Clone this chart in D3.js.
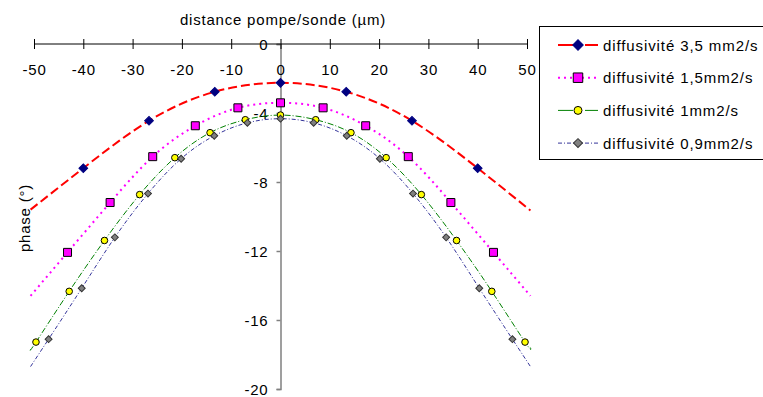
<!DOCTYPE html>
<html>
<head>
<meta charset="utf-8">
<script src="https://cdn.jsdelivr.net/npm/d3@7"></script>
<style>
  body { margin: 0; background: #fff; }
  svg text { font-family: "Liberation Sans", Arial, sans-serif; font-size: 15px; letter-spacing: 0.8px; fill: #000; }
</style>
</head>
<body>
<svg id="chart" width="763" height="397"></svg>
<script>
// data
const xTicks = [-50, -40, -30, -20, -10, 0, 10, 20, 30, 40, 50];
const yTicks = [0, -4, -8, -12, -16, -20];

const labels = ['diffusivité 3,5 mm2/s', 'diffusivité 1,5mm2/s', 'diffusivité 1mm2/s', 'diffusivité 0,9mm2/s'];

// measured points
const xA = [-40, -26.67, -13.33, 0, 13.33, 26.67, 40];
const yA = [-7.2, -4.45, -2.77, -2.25, -2.77, -4.45, -7.2];
const xB = [-43.2, -34.56, -25.92, -17.28, -8.64, 0, 8.64, 17.28, 25.92, 34.56, 43.2];
const yB = [-12.08, -9.19, -6.53, -4.74, -3.7, -3.41, -3.7, -4.74, -6.53, -9.19, -12.08];
const xC = [-49.6, -42.86, -35.71, -28.57, -21.43, -14.29, -7.14, 0, 7.14, 14.29, 21.43, 28.57, 35.71, 42.86, 49.6];
const yC = [-17.28, -14.34, -11.39, -8.73, -6.59, -5.14, -4.39, -4.12, -4.39, -5.14, -6.59, -8.73, -11.39, -14.34, -17.28];
const xD = [-47.04, -40.32, -33.6, -26.88, -20.16, -13.44, -6.72, 0, 6.72, 13.44, 20.16, 26.88, 33.6, 40.32, 47.04];
const yD = [-17.11, -14.16, -11.21, -8.67, -6.65, -5.32, -4.57, -4.33, -4.57, -5.32, -6.65, -8.67, -11.21, -14.16, -17.11];

// where the fitted curves end (left / right)
const curveEndX = [-50.7, 50.7];
const endA = [-9.6, -9.65];
const endB = [-14.6, -14.6];
const endC = [-17.7, -17.6];
const endD = [-18.7, -18.7];

const svg = d3.select('#chart');

const x = d3.scaleLinear().domain([-50, 50]).range([34, 527]);
const y = d3.scaleLinear().domain([0, -20]).range([44, 389]);

// diamonds are squares turned 45°
const series = [
  { xs: xA, ys: yA, ends: endA, line: '#ff0000', width: 2, dash: '9,4', marker: 'diamond', fill: '#000080', stroke: '#000080', size: 38, lsize: 55 },
  { xs: xB, ys: yB, ends: endB, line: '#ff00ff', width: 2, dash: '2,4', marker: 'square', fill: '#ff00ff', stroke: '#000', size: 64, lsize: 90 },
  { xs: xC, ys: yC, ends: endC, line: '#008000', width: 1, dash: '6,2,1,2', marker: 'circle', fill: '#ffff00', stroke: '#000', size: 34, lsize: 50 },
  { xs: xD, ys: yD, ends: endD, line: '#000080', width: 0.8, dash: '4,2,1,2', marker: 'diamond', fill: '#808080', stroke: '#333', size: 24, lsize: 40 }
];

const symbolType = { diamond: d3.symbolSquare, square: d3.symbolSquare, circle: d3.symbolCircle };
const symbolRot = { diamond: 45, square: 0, circle: 0 };

// y axis (grey, at x = 0)
const yAxis = svg.append('g')
  .attr('transform', 'translate(' + x(0) + ',0)')
  .call(d3.axisLeft(y).tickValues(yTicks).tickSize(4).tickPadding(8).tickFormat(d => String(d)));
yAxis.select('.domain').attr('stroke', '#808080').attr('stroke-width', 1.5);
yAxis.selectAll('.tick line').attr('stroke', '#808080').attr('stroke-width', 1.5);
yAxis.selectAll('.tick text').attr('dy', '0.35em');

// x axis at top (y = 0)
const xAxis = svg.append('g')
  .attr('transform', 'translate(0,' + y(0) + ')')
  .call(d3.axisBottom(x).tickValues(xTicks).tickSize(5).tickPadding(0).tickFormat(d => String(d)));
xAxis.select('.domain').attr('stroke', '#000').attr('d', 'M' + x(-50) + ',0H' + x(50));
xAxis.selectAll('.tick line').attr('y1', -5).attr('y2', 5).attr('stroke', '#000');
xAxis.selectAll('.tick text').attr('y', 31).attr('dy', 0);

// curves
const curve = d3.line()
  .x(d => x(d[0]))
  .y(d => y(d[1]))
  .curve(d3.curveNatural);

series.forEach(s => {
  const pts = [[curveEndX[0], s.ends[0]]]
    .concat(s.xs.map((v, i) => [v, s.ys[i]]))
    .concat([[curveEndX[1], s.ends[1]]]);
  svg.append('path')
    .attr('d', curve(pts))
    .attr('fill', 'none')
    .attr('stroke', s.line)
    .attr('stroke-width', s.width)
    .attr('stroke-dasharray', s.dash);
});

// markers
series.forEach(s => {
  svg.append('g').selectAll('path')
    .data(s.xs.map((v, i) => [v, s.ys[i]]))
    .enter()
    .append('path')
    .attr('transform', d => 'translate(' + x(d[0]) + ',' + y(d[1]) + ') rotate(' + symbolRot[s.marker] + ')')
    .attr('d', d3.symbol().type(symbolType[s.marker]).size(s.size))
    .attr('fill', s.fill)
    .attr('stroke', s.stroke)
    .attr('stroke-width', 1);
});

// titles
svg.append('text')
  .attr('x', 283).attr('y', 25)
  .attr('text-anchor', 'middle')
  .text('distance pompe/sonde (µm)');

svg.append('text')
  .attr('transform', 'translate(30,218) rotate(-90)')
  .attr('text-anchor', 'middle')
  .text('phase (°)');

// legend
const legend = svg.append('g');
legend.append('rect')
  .attr('x', 539.5).attr('y', 26.5)
  .attr('width', 240).attr('height', 133)
  .attr('fill', '#fff').attr('stroke', '#000');

series.forEach((s, i) => {
  const ly = 45 + i * 32.7;
  legend.append('line')
    .attr('x1', 558).attr('x2', 598).attr('y1', ly).attr('y2', ly)
    .attr('stroke', s.line)
    .attr('stroke-width', s.width)
    .attr('stroke-dasharray', i === 0 ? '20,7,20' : i === 2 ? '15,12,15' : s.dash);
  legend.append('path')
    .attr('transform', 'translate(578,' + ly + ') rotate(' + symbolRot[s.marker] + ')')
    .attr('d', d3.symbol().type(symbolType[s.marker]).size(s.lsize))
    .attr('fill', s.fill)
    .attr('stroke', s.stroke);
  legend.append('text')
    .attr('x', 603).attr('y', ly + 5.5)
    .style('letter-spacing', '0.9px')
    .text(labels[i]);
});
</script>
</body>
</html>
